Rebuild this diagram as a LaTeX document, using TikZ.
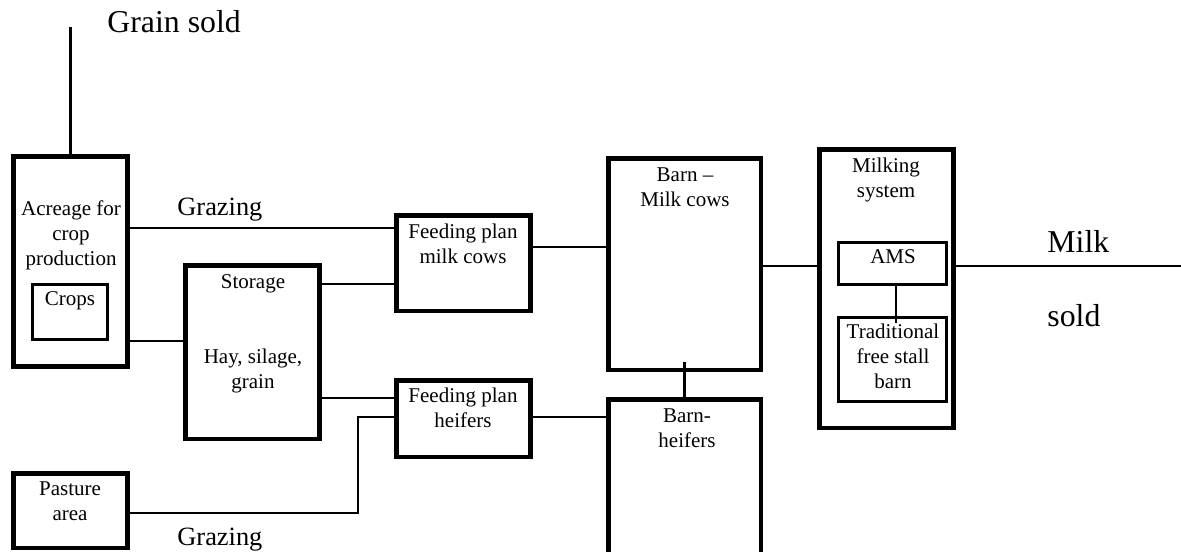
\documentclass[tikz,border=0pt]{standalone}
\usepackage{fontspec}
\setmainfont{Liberation Serif}
\begin{document}
\begin{tikzpicture}[x=0.5pt, y=-0.5pt,
    box/.style={draw, line width=2.25pt, inner sep=0pt},
    subbox/.style={draw, line width=1.5pt, inner sep=0pt},
    conn/.style={line width=1.2pt},
    boxtext/.style={anchor=base, inner sep=0pt, align=center, font=\fontsize{10.5}{12.5}\selectfont},
    flowtext/.style={anchor=base west, inner sep=0pt, font=\fontsize{13.2}{15}\selectfont},
    soldtext/.style={anchor=base west, inner sep=0pt, font=\fontsize{15.9}{18}\selectfont}]
    \useasboundingbox (0,0) rectangle (1181,551);

    % Boxes
    \node[box, minimum width=57pt, minimum height=105pt] (acre) at (70.5, 261.5) {};
    \node[subbox, minimum width=37.5pt, minimum height=27.5pt] (crops) at (70, 312) {};
    \node[box, minimum width=67pt, minimum height=86.75pt] (storage) at (252.5, 352) {};
    \node[box, minimum width=57pt, minimum height=37.25pt] (pasture) at (70.5, 510.5) {};
    \node[box, minimum width=67pt, minimum height=47.75pt] (feedmc) at (463.5, 263) {};
    \node[box, minimum width=67pt, minimum height=38.25pt] (feedh) at (463.5, 418.5) {};
    \node[box, minimum width=76.25pt, minimum height=105.75pt] (barnmc) at (684.5, 264) {};
    \node[box, minimum width=76.25pt, minimum height=77.25pt] (barnh) at (684.5, 476.5) {};
    \node[box, minimum width=67pt, minimum height=139.25pt] (milking) at (886.5, 288.5) {};
    \node[subbox, minimum width=54pt, minimum height=21pt] (ams) at (892.5, 263.5) {};
    \node[subbox, minimum width=54pt, minimum height=42pt] (trad) at (892.5, 359.5) {};

    % Box texts (base = last line)
    \node[boxtext] (acretxt) at (71, 265) {Acreage for\\crop\\production};
    \node[boxtext] (cropstxt) at (70, 305) {Crops};
    \node[boxtext] (storagetxt) at (253, 288) {Storage};
    \node[boxtext] (haytxt) at (253, 388) {Hay, silage,\\grain};
    \node[boxtext] (pasturetxt) at (70, 520) {Pasture\\area};
    \node[boxtext] (feedmctxt) at (463, 263) {Feeding plan\\milk cows};
    \node[boxtext] (feedhtxt) at (463, 427) {Feeding plan\\heifers};
    \node[boxtext] (barnmctxt) at (685, 206) {Barn --\\Milk cows};
    \node[boxtext] (barnhtxt) at (687, 447) {Barn-\\heifers};
    \node[boxtext] (milkingtxt) at (886, 197) {Milking\\system};
    \node[boxtext] (amstxt) at (893, 263) {AMS};
    \node[boxtext] (tradtxt) at (893, 388) {Traditional\\free stall\\barn};

    % Flow texts
    \node[soldtext] (grainsold) at (107, 33) {Grain sold};
    \node[flowtext] (grazetop) at (177, 215) {Grazing};
    \node[flowtext] (grazebot) at (177, 545) {Grazing};
    \node[soldtext] (milk) at (1047, 252) {Milk};
    \node[soldtext] (sold) at (1047, 326) {sold};

    % Lines
    \coordinate (grainend) at (70.5, 27);
    \coordinate (milkend) at (1181, 266);
    \draw[conn] (acre.north) -- (grainend);
    \draw[conn] (acre.east |- 0,228) -- (feedmc.west |- 0,228);
    \draw[conn] (acre.east |- 0,341) -- (storage.west |- 0,341);
    \draw[conn] (storage.east |- 0,284) -- (feedmc.west |- 0,284);
    \draw[conn] (storage.east |- 0,398) -- (feedh.west |- 0,398);
    \draw[conn] (pasture.east |- 0,513) -| (358,417) -- (feedh.west |- 0,417);
    \draw[conn] (feedmc.east |- 0,247) -- (barnmc.west |- 0,247);
    \draw[conn] (feedh.east |- 0,417) -- (barnh.west |- 0,417);
    \draw[conn] ([yshift=5pt]barnmc.south) -- (barnh.north);
    \draw[conn] (barnmc.east |- 0,266) -- (milking.west |- 0,266);
    \draw[conn] (milking.east |- 0,266) -- (milkend);
    \draw[conn] ([xshift=1.75pt]ams.south) -- ([xshift=1.75pt, yshift=-3.5pt]trad.north);

  \end{tikzpicture}
\end{document}
